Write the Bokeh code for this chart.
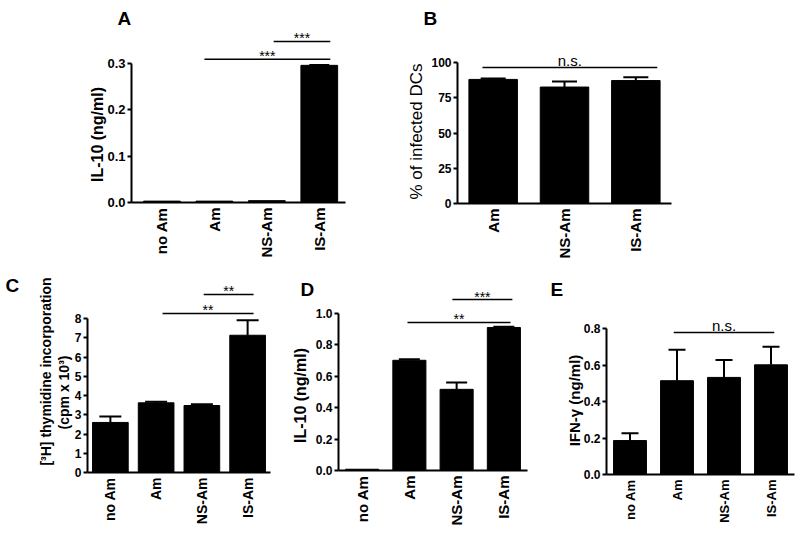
import math
from bokeh.plotting import figure
from bokeh.layouts import row, column
from bokeh.models import (Range1d, FixedTicker, Whisker, TeeHead, Label,
                          LinearAxis, ColumnDataSource, NumeralTickFormatter)
from bokeh.embed import file_html
from bokeh.resources import INLINE
from bokeh.core.properties import value

FONT = "Liberation Sans"

# ---------------- data ----------------
cats_A = ["no Am", "Am", "NS-Am", "IS-Am"]
il10_A = [0.003, 0.003, 0.004, 0.296]
il10_A_err = [0.0, 0.0, 0.0, 0.001]
ticks_A = [0.0, 0.1, 0.2, 0.3]
sig_A_x0 = [0.81, 2.13]
sig_A_x1 = [3.21, 3.21]
sig_A_y = [0.309, 0.3475]
sig_A_txt = ["***", "***"]

cats_B = ["Am", "NS-Am", "IS-Am"]
infected_B = [88.0, 82.6, 87.2]
infected_B_err = [0.7, 4.0, 2.4]
ticks_B = [0, 25, 50, 75, 100]
sig_B_x0 = [-0.15]
sig_B_x1 = [2.30]
sig_B_y = [96.5]
sig_B_txt = ["n.s."]

cats_C = ["no Am", "Am", "NS-Am", "IS-Am"]
thym_C = [2.60, 3.62, 3.48, 7.13]
thym_C_err = [0.31, 0.06, 0.06, 0.78]
ticks_C = [0, 1, 2, 3, 4, 5, 6, 7, 8]
sig_C_x0 = [1.14, 2.04]
sig_C_x1 = [3.13, 3.13]
sig_C_y = [8.26, 9.25]
sig_C_txt = ["**", "**"]

cats_D = ["no Am", "Am", "NS-Am", "IS-Am"]
il10_D = [0.008, 0.702, 0.517, 0.911]
il10_D_err = [0.0, 0.007, 0.043, 0.004]
ticks_D = [0.0, 0.2, 0.4, 0.6, 0.8, 1.0]
sig_D_x0 = [0.96, 1.91]
sig_D_x1 = [3.14, 3.18]
sig_D_y = [0.943, 1.089]
sig_D_txt = ["**", "***"]

cats_E = ["no Am", "Am", "NS-Am", "IS-Am"]
ifng_E = [0.186, 0.514, 0.532, 0.601]
ifng_E_err = [0.040, 0.169, 0.095, 0.099]
ticks_E = [0.0, 0.2, 0.4, 0.6, 0.8]
sig_E_x0 = [0.93]
sig_E_x1 = [3.07]
sig_E_y = [0.778]
sig_E_txt = ["n.s."]


def panel(letter, cats, vals, errs, ticks, fmt, sx0, sx1, sy, stxt,
          W, H, ax_left, ax_right, y0px, ytop_px, x_start, letter_px,
          ylabels, ylabel_size="16px", ylabel_style="bold",
          tick_size="12px", xlab_size="15px", sig_size="14px",
          bar_w=0.7, cap=20):
    n = len(cats)
    xs = list(range(n))
    k = (ax_right - ax_left) / (n - 0.5 - x_start)      # px per x unit
    s = (y0px - ytop_px) / ticks[-1]                     # px per y unit

    def dx(px):
        return x_start + (px - ax_left) / k

    def dy(py):
        return (y0px - py) / s

    p = figure(width=W, height=H, output_backend="svg",
               toolbar_location=None, tools="",
               x_range=Range1d(dx(0), dx(W)), y_range=Range1d(dy(H), dy(0)),
               x_axis_location=None, y_axis_location=None,
               min_border=0, min_border_left=0, min_border_right=0,
               min_border_top=0, min_border_bottom=0)
    p.outline_line_color = None
    p.grid.visible = False
    p.background_fill_color = "white"
    p.border_fill_color = "white"

    src = ColumnDataSource(dict(x=xs, top=vals))
    p.vbar(x="x", top="top", width=bar_w, source=src,
           fill_color="black", line_color="black")

    ex = [x for x, e in zip(xs, errs) if e > 0]
    el = [v for v, e in zip(vals, errs) if e > 0]
    eu = [v + e for v, e in zip(vals, errs) if e > 0]
    if ex:
        esrc = ColumnDataSource(dict(base=ex, lower=el, upper=eu))
        p.add_layout(Whisker(base="base", lower="lower", upper="upper",
                             source=esrc, line_color="black", line_width=2,
                             lower_head=None,
                             upper_head=TeeHead(size=cap, line_color="black",
                                                line_width=2)))

    # significance brackets
    ssrc = ColumnDataSource(dict(x0=sx0, x1=sx1, y=sy, txt=stxt,
                                 xm=[(a + b) / 2 for a, b in zip(sx0, sx1)],
                                 off=[-3 if t.startswith("*") else -7 for t in stxt]))
    p.segment(x0="x0", y0="y", x1="x1", y1="y", source=ssrc,
              line_color="black", line_width=1.5)
    p.text(x="xm", y="y", text="txt", source=ssrc, y_offset="off",
           text_align="center", text_baseline="alphabetic",
           text_font=value(FONT), text_font_size=sig_size, text_color="black")

    # axes
    yax = LinearAxis(fixed_location=x_start, bounds=(0, ticks[-1]),
                     ticker=FixedTicker(ticks=ticks),
                     formatter=NumeralTickFormatter(format=fmt))
    yax.axis_line_width = 2
    yax.axis_line_color = "black"
    yax.major_tick_line_width = 2
    yax.major_tick_line_color = "black"
    yax.major_tick_out = 4
    yax.major_tick_in = 0
    yax.minor_tick_line_color = None
    yax.major_label_text_font = FONT
    yax.major_label_text_font_style = "bold"
    yax.major_label_text_font_size = tick_size
    yax.major_label_text_color = "black"
    yax.major_label_standoff = 2
    p.add_layout(yax, "left")

    xax = LinearAxis(fixed_location=0, bounds=(x_start, n - 0.5),
                     ticker=FixedTicker(ticks=xs))
    xax.major_label_overrides = {i: c for i, c in zip(xs, cats)}
    xax.axis_line_width = 2
    xax.axis_line_color = "black"
    xax.major_tick_line_color = None
    xax.minor_tick_line_color = None
    xax.major_tick_out = 0
    xax.major_tick_in = 0
    xax.major_label_orientation = math.pi / 2
    xax.major_label_text_font = FONT
    xax.major_label_text_font_style = "bold"
    xax.major_label_text_font_size = xlab_size
    xax.major_label_text_color = "black"
    xax.major_label_standoff = 5
    p.add_layout(xax, "below")

    # y-axis title(s), rotated
    for txt, (cx, cy) in ylabels:
        p.add_layout(Label(x=dx(cx), y=dy(cy), text=txt, angle=math.pi / 2,
                           text_font=FONT, text_font_size=ylabel_size,
                           text_font_style=ylabel_style, text_color="black",
                           text_align="center", text_baseline="middle"))

    # panel letter
    p.add_layout(Label(x=dx(letter_px[0]), y=dy(letter_px[1]), text=letter,
                       text_font=FONT, text_font_size="19px",
                       text_font_style="bold", text_color="black",
                       text_baseline="alphabetic", text_align="left"))
    return p


pA = panel("A", cats_A, il10_A, il10_A_err, ticks_A, "0.0",
           sig_A_x0, sig_A_x1, sig_A_y, sig_A_txt,
           W=370, H=270, ax_left=131, ax_right=345, y0px=202, ytop_px=63,
           x_start=-0.58, letter_px=(117, 18),
           ylabels=[("IL-10 (ng/ml)", (97, 134))],
           ylabel_size="16px", tick_size="13px", bar_w=0.7, cap=20)

pB = panel("B", cats_B, infected_B, infected_B_err, ticks_B, "0",
           sig_B_x0, sig_B_x1, sig_B_y, sig_B_txt,
           W=430, H=270, ax_left=87, ax_right=301, y0px=203, ytop_px=62,
           x_start=-0.5, letter_px=(53, 18),
           ylabels=[("% of infected DCs", (46, 131))],
           ylabel_size="17px", ylabel_style="normal", tick_size="12px",
           sig_size="15px", bar_w=0.68, cap=25)

pC = panel("C", cats_C, thym_C, thym_C_err, ticks_C, "0",
           sig_C_x0, sig_C_x1, sig_C_y, sig_C_txt,
           W=278, H=266, ax_left=87, ax_right=270, y0px=202, ytop_px=48,
           x_start=-0.5, letter_px=(5, 15),
           ylabels=[("[³H] thymidine incorporation", (45, 101)),
                    ("(cpm x 10³)", (63, 122))],
           ylabel_size="14px", tick_size="12px", xlab_size="14px",
           bar_w=0.78, cap=22)

pD = panel("D", cats_D, il10_D, il10_D_err, ticks_D, "0.0",
           sig_D_x0, sig_D_x1, sig_D_y, sig_D_txt,
           W=258, H=266, ax_left=60, ax_right=249, y0px=200, ytop_px=43,
           x_start=-0.5, letter_px=(22, 19),
           ylabels=[("IL-10 (ng/ml)", (22, 125))],
           ylabel_size="16px", tick_size="12px", xlab_size="15px",
           bar_w=0.7, cap=21)

pE = panel("E", cats_E, ifng_E, ifng_E_err, ticks_E, "0.0",
           sig_E_x0, sig_E_x1, sig_E_y, sig_E_txt,
           W=264, H=266, ax_left=70, ax_right=258, y0px=204, ytop_px=58,
           x_start=-0.5, letter_px=(14, 19),
           ylabels=[("IFN-γ (ng/ml)", (38, 130))],
           ylabel_size="15px", tick_size="12px", xlab_size="13px",
           sig_size="15px", bar_w=0.7, cap=17)

layout = column(row(pA, pB), row(pC, pD, pE))
open("out.html", "w").write(file_html(layout, INLINE))
